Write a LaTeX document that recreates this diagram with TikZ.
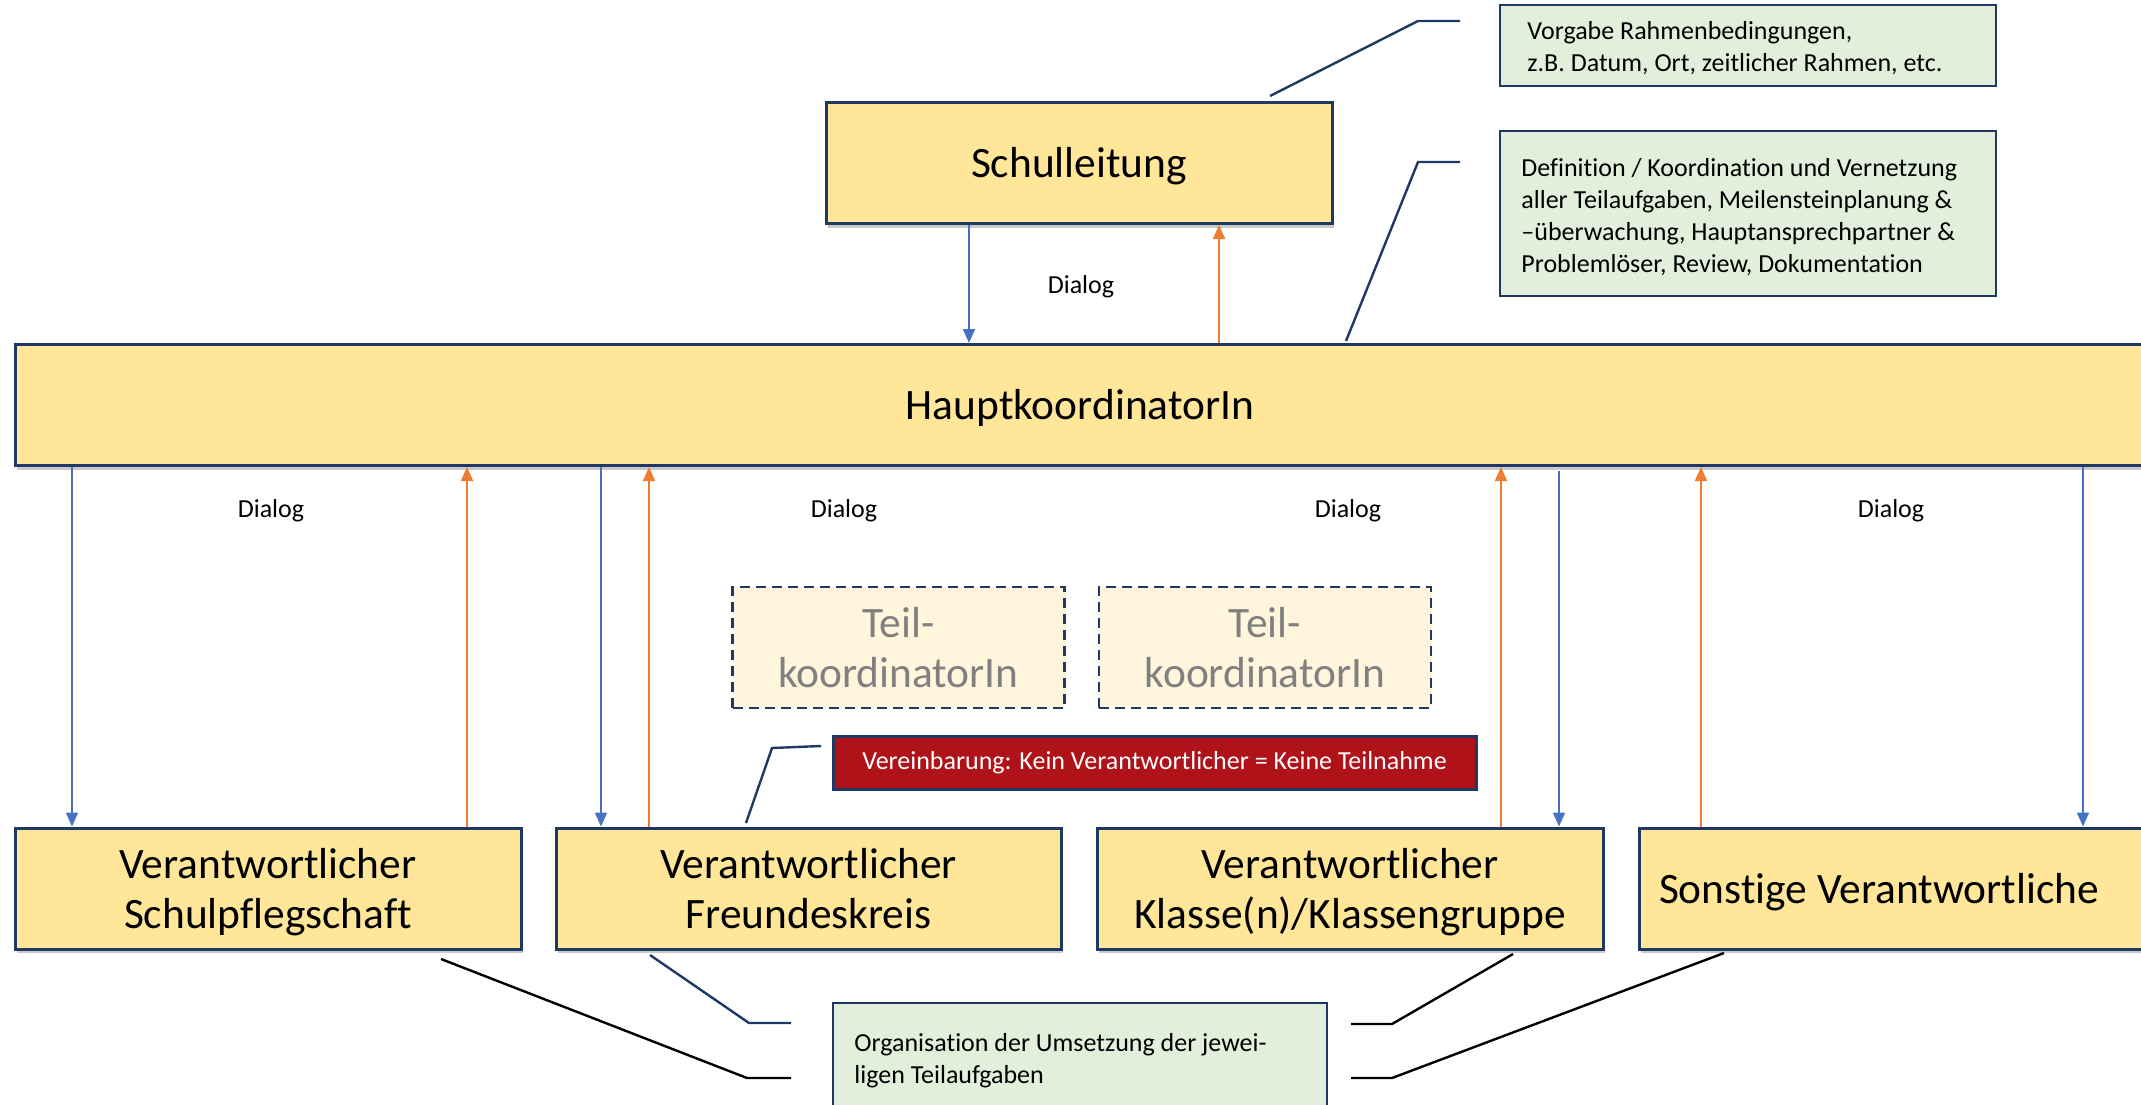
\documentclass[tikz,border=0pt]{standalone}
\usepackage{fontspec}
\setmainfont{Carlito}[Ligatures={NoCommon}]
\usetikzlibrary{arrows.meta,shadows}
\definecolor{navy}{HTML}{203864}
\definecolor{boxyellow}{HTML}{FFE699}
\definecolor{boxgreen}{HTML}{E2EFDA}
\definecolor{boxcream}{HTML}{FFF4DC}
\definecolor{boxred}{HTML}{B0121A}
\definecolor{arrblue}{HTML}{4472C4}
\definecolor{arrorange}{HTML}{ED7D31}
\definecolor{txtgray}{HTML}{808080}
\newcommand\bigtxt{\fontsize{21.7}{25}\selectfont}
\newcommand\smalltxt{\fontsize{13}{16}\selectfont}
\newcommand\bst{\rule[-4pt]{0pt}{22.5pt}}
\begin{document}
\begin{tikzpicture}[x=0.5pt,y=-0.5pt,
  ybox/.style={draw=navy, line width=1.5pt, fill=boxyellow, minimum width=253pt,
    minimum height=60.5pt, inner sep=0pt, align=center, font=\bigtxt,
    drop shadow={shadow xshift=1.2pt, shadow yshift=-2.2pt, opacity=0.3, fill=black!70}},
  tbox/.style={draw=navy, line width=1.3pt, dashed, dash pattern=on 5pt off 3pt, fill=boxcream,
    minimum width=166pt, minimum height=60.5pt, inner sep=0pt, align=center,
    font=\bigtxt, text=txtgray},
  gbox/.style={draw=navy, line width=1.3pt, fill=boxgreen, minimum width=248pt, inner sep=0pt},
  gtext/.style={anchor=west, align=left, font=\smalltxt, inner sep=0pt},
  rbox/.style={draw=navy, line width=1.5pt, fill=boxred, text=white, font=\smalltxt,
    minimum width=321.5pt, minimum height=26.5pt, inner sep=0pt},
  dlg/.style={font=\smalltxt, inner sep=0pt},
  barr/.style={draw=arrblue, line width=0.9pt, -{Triangle[width=6pt,length=7pt]}},
  oarr/.style={draw=arrorange, line width=0.9pt, -{Triangle[width=6pt,length=7pt]}},
  callout/.style={draw=navy, line width=1.2pt},
  callblk/.style={draw=black, line width=1.2pt}]
\useasboundingbox (0,0) rectangle (2141,1104);

% main boxes
\node[ybox] (schul) at (1079,163) {\bst Schulleitung};
\node[ybox, minimum width=1065pt] (haupt) at (1080,405) {\bst HauptkoordinatorIn};
\node[ybox] (b1) at (268,888.5) {\bst Verantwortlicher\\\bst Schulpflegschaft};
\node[ybox, minimum width=252.5pt] (b2) at (808.5,888.5) {\bst Verantwortlicher\\\bst Freundeskreis};
\node[ybox] (b3) at (1350,888.5) {\bst Verantwortlicher\\\bst Klasse(n)/Klassengruppe};
\node[ybox] (b4) at (1892,888.5) {};
\node[font=\bigtxt, inner sep=0pt] (b4t) at (1879,888.5) {\bst Sonstige Verantwortliche};

% Teilkoordinatoren
\node[tbox] (t1) at (898.5,647.5) {\bst Teil-\\\bst koordinatorIn};
\node[tbox] (t2) at (1265,647.5) {\bst Teil-\\\bst koordinatorIn};

% red note
\node[rbox] (red) at (1154.5,762.5) {Vereinbarung: Kein Verantwortlicher = Keine Teilnahme};

% green notes
\node[gbox, minimum height=40.5pt] (g1) at (1748,45.5) {};
\node[gtext] (g1t) at (1527,48) {Vorgabe Rahmenbedingungen,\\z.B. Datum, Ort, zeitlicher Rahmen, etc.};
\node[gbox, minimum height=82.5pt] (g2) at (1748,213.5) {};
\node[gtext] (g2t) at (1521,217) {Definition / Koordination und Vernetzung\\aller Teilaufgaben, Meilensteinplanung \&\\–überwachung, Hauptansprechpartner \&\\Problemlöser, Review, Dokumentation};
\node[gbox, minimum width=247pt, minimum height=56pt] (g3) at (1080,1059) {};
\node[gtext] (g3t) at (854,1061) {Organisation der Umsetzung der jewei-\\ligen Teilaufgaben};

% Dialog labels
\node[dlg] (d0) at (1081,287) {Dialog};
\node[dlg] (d1) at (271,511) {Dialog};
\node[dlg] (d2) at (844,511) {Dialog};
\node[dlg] (d3) at (1348,511) {Dialog};
\node[dlg] (d4) at (1891,511) {Dialog};

% arrow x positions
\coordinate (x0) at (969,0);
\coordinate (x1) at (1219,0);
\coordinate (xa) at (72,0);
\coordinate (xb) at (467,0);
\coordinate (xc) at (601,0);
\coordinate (xd) at (649,0);
\coordinate (xe) at (1501,0);
\coordinate (xf) at (1559,0);
\coordinate (xg) at (1701,0);
\coordinate (xh) at (2083,0);
\coordinate (xf0) at (1559,471);

\draw[barr] (schul.south -| x0) -- (haupt.north -| x0);
\draw[oarr] (haupt.north -| x1) -- (schul.south -| x1);
\draw[barr] (haupt.south -| xa) -- (b1.north -| xa);
\draw[oarr] (b1.north -| xb) -- (haupt.south -| xb);
\draw[barr] (haupt.south -| xc) -- (b2.north -| xc);
\draw[oarr] (b2.north -| xd) -- (haupt.south -| xd);
\draw[oarr] (b3.north -| xe) -- (haupt.south -| xe);
\draw[barr] (xf0) -- (b3.north -| xf);
\draw[oarr] (b4.north -| xg) -- (haupt.south -| xg);
\draw[barr] (haupt.south -| xh) -- (b4.north -| xh);

% callouts
\coordinate (c1a) at (1270,96);  \coordinate (c1b) at (1418,21);  \coordinate (c1c) at (1460,21);
\coordinate (c2a) at (1346,341); \coordinate (c2b) at (1418,162); \coordinate (c2c) at (1460,162);
\coordinate (c3a) at (746,823);  \coordinate (c3b) at (772,748);  \coordinate (c3c) at (821,746);
\coordinate (c4a) at (441,959);  \coordinate (c4b) at (747,1078); \coordinate (c4c) at (791,1078);
\coordinate (c5a) at (650,955);  \coordinate (c5b) at (749,1023); \coordinate (c5c) at (791,1023);
\coordinate (c6a) at (1513,954); \coordinate (c6b) at (1392,1024); \coordinate (c6c) at (1351,1024);
\coordinate (c7a) at (1724,953); \coordinate (c7b) at (1392,1078); \coordinate (c7c) at (1351,1078);
\draw[callout] (c1a) -- (c1b) -- (c1c);
\draw[callout] (c2a) -- (c2b) -- (c2c);
\draw[callout] (c3a) -- (c3b) -- (c3c);
\draw[callblk] (c4a) -- (c4b) -- (c4c);
\draw[callout] (c5a) -- (c5b) -- (c5c);
\draw[callblk] (c6a) -- (c6b) -- (c6c);
\draw[callblk] (c7a) -- (c7b) -- (c7c);
\end{tikzpicture}
\end{document}
